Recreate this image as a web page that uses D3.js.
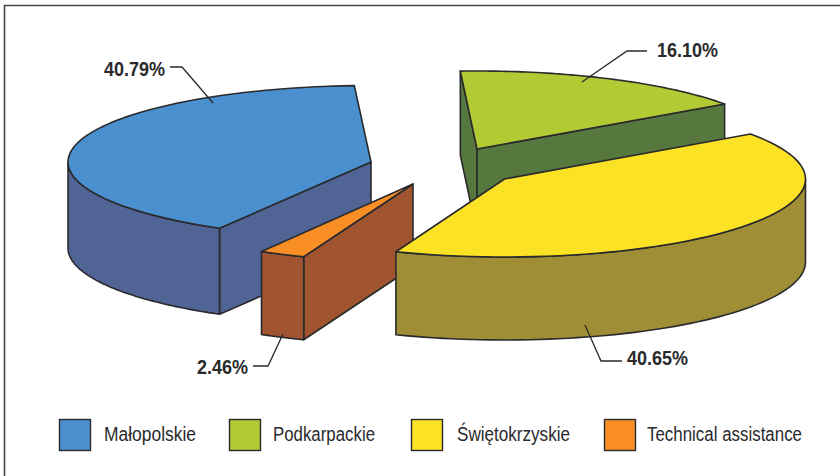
<!DOCTYPE html>
<html>
<head>
<meta charset="utf-8">
<script src="https://cdnjs.cloudflare.com/ajax/libs/d3/7.8.5/d3.min.js"></script>
<style>
  html, body { margin: 0; padding: 0; background: #fff; }
  svg { display: block; }
  text { font-family: "Liberation Sans", sans-serif; fill: #2a2a2c; }
</style>
</head>
<body>
<svg id="chart" width="840" height="476"></svg>
<script>
var regions = ["Małopolskie", "Podkarpackie", "Świętokrzyskie", "Technical assistance"];
var shares = [40.79, 16.10, 40.65, 2.46];
var shareLabels = ["40.79%", "16.10%", "40.65%", "2.46%"];
var topColors = ["#4a90ce", "#b2cb35", "#fce225", "#f98e25"];
var sideColors = ["#506496", "#56773e", "#a08e36", "#a05430"];

var svg = d3.select("#chart");
var ink = "#2a2a2c";

// frame, only top and left are in the picture
svg.append("path")
  .attr("d", "M4.5,476V5.5H840")
  .attr("fill", "none")
  .attr("stroke", "#444")
  .attr("stroke-width", 1.6);

var rad = Math.PI / 180;

// exploded slice centres, radii and extrusion, in data order
var centres = [[371, 162], [477, 149], [504.5, 179], [413, 184]];
var radiiX = [303, 303, 301, 303];
var radiiY = [76.5, 78, 78, 78];
var depths = [86, 84, 83, 83];

// pie starts at the blue slice's lower edge and goes clockwise
var pie = d3.pie().sort(null).value(function (d) { return d })
  .startAngle(-150 * rad).endAngle(210 * rad);
var slices = pie(shares);

var scalesX = radiiX.map(function (r) { return d3.scaleLinear().domain([-1, 1]).range([-r, r]) });
var scalesY = radiiY.map(function (r) { return d3.scaleLinear().domain([-1, 1]).range([-r, r]) });

function project(i, a, drop) {
  return [centres[i][0] + scalesX[i](Math.sin(a)), centres[i][1] - scalesY[i](Math.cos(a)) + (drop || 0)];
}

function arcPoints(i, a0, a1, drop) {
  return d3.range(0, 61).map(function (k) {
    return project(i, a0 + (a1 - a0) * k / 60, drop);
  });
}

var line = d3.line();

function solid(g, points, fill) {
  g.append("path")
    .attr("d", line(points) + "Z")
    .attr("fill", fill).attr("stroke", ink).attr("stroke-width", 1.6)
    .attr("stroke-linejoin", "round");
}

function wall(g, i, a) {
  var c = centres[i], p = project(i, a), d = depths[i];
  solid(g, [c, p, [p[0], p[1] + d], [c[0], c[1] + d]], sideColors[i]);
}

// painter order: green, blue, orange, yellow
[1, 0, 3, 2].forEach(function (i) {
  var s = slices[i];
  var g = svg.append("g");

  // cut faces, only the ones turned to the viewer
  if (Math.sin(s.startAngle) < 0) wall(g, i, s.startAngle);
  if (Math.sin(s.endAngle) > 0) wall(g, i, s.endAngle);

  // outer wall, only the front half of the rim
  var shift = s.startAngle < 0 ? 360 * rad : 0;
  var a0 = Math.max(s.startAngle + shift, 90 * rad);
  var a1 = Math.min(s.endAngle + shift, 270 * rad);
  if (a1 > a0) {
    solid(g, arcPoints(i, a0, a1, 0).concat(arcPoints(i, a1, a0, depths[i])), sideColors[i]);
  }

  // top face
  solid(g, [centres[i]].concat(arcPoints(i, s.startAngle, s.endAngle, 0)), topColors[i]);
});

// leaders and percentage labels
var leaders = [
  [[170, 67], [182, 67], [213, 103]],
  [[647, 51], [627, 51], [582, 82]],
  [[622, 361], [601, 361], [585, 325]],
  [[253, 366], [268, 366], [283, 334]]
];
var labelPos = [[104, 76], [657, 57], [627, 365], [197, 374]];
var labelWidths = [61, 61, 61, 51];

leaders.forEach(function (pts, i) {
  svg.append("path").attr("d", line(pts))
    .attr("fill", "none").attr("stroke", ink).attr("stroke-width", 1.3);
  svg.append("text")
    .attr("x", labelPos[i][0]).attr("y", labelPos[i][1])
    .attr("font-size", 20).attr("font-weight", "bold")
    .attr("textLength", labelWidths[i]).attr("lengthAdjust", "spacingAndGlyphs")
    .text(shareLabels[i]);
});

// legend
var swatchX = [59, 229, 411, 604];
var legendTextX = [104, 273, 457, 647];
var legendWidths = [92, 102, 113, 155];

regions.forEach(function (name, i) {
  svg.append("rect")
    .attr("x", swatchX[i] + 0.5).attr("y", 419.5)
    .attr("width", 31).attr("height", 31)
    .attr("fill", topColors[i]).attr("stroke", ink).attr("stroke-width", 1.4);
  svg.append("text")
    .attr("x", legendTextX[i]).attr("y", 441)
    .attr("font-size", 20)
    .attr("textLength", legendWidths[i]).attr("lengthAdjust", "spacingAndGlyphs")
    .text(name);
});
</script>
</body>
</html>
